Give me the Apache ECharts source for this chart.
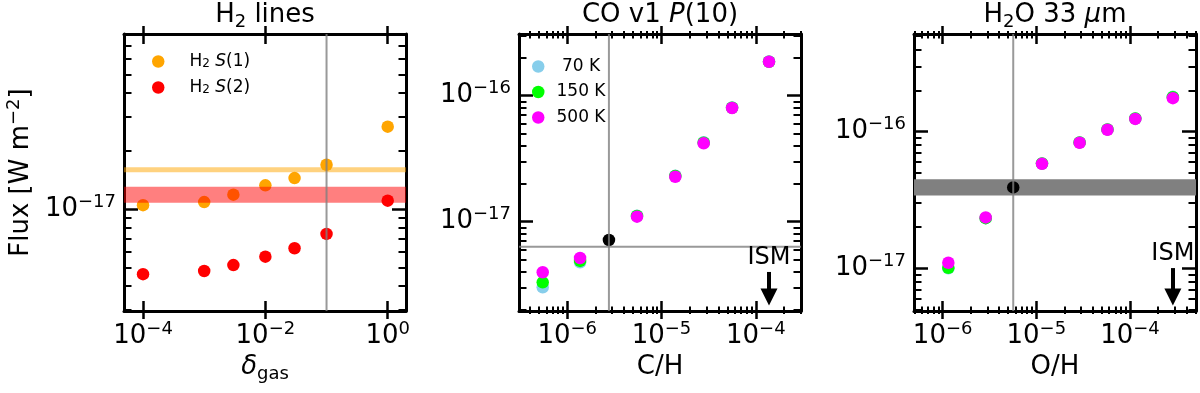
<!DOCTYPE html>
<html><head><meta charset="utf-8">
<script src="https://cdn.jsdelivr.net/npm/echarts@6/dist/echarts.min.js"></script>
<style>html,body{margin:0;padding:0;background:#fff}#c{width:1200px;height:393px}</style>
</head><body><div id="c"></div>
<script>
// ---------- Panel 1 : H2 lines ----------
const deltaGas   = [1e-4, 1e-3, 3e-3, 1e-2, 3e-2, 1e-1, 1];
const fluxH2S1   = [1.05e-17, 1.09e-17, 1.19e-17, 1.33e-17, 1.45e-17, 1.70e-17, 2.68e-17];
const fluxH2S2   = [4.61e-18, 4.79e-18, 5.14e-18, 5.68e-18, 6.28e-18, 7.45e-18, 1.108e-17];
const obsH2S1    = 1.6e-17;
const obsH2S2    = [1.08e-17, 1.31e-17];
const deltaGasRef = 0.1;
const h2Names    = ['H2 S(1)', 'H2 S(2)'];

// ---------- Panel 2 : CO v1 P(10) ----------
const abundC     = [5.5e-7, 1.37e-6, 5.5e-6, 1.4e-5, 2.8e-5, 5.6e-5, 1.38e-4];
const fluxCO70   = [3.01e-18, 4.76e-18, 1.116e-17, 2.32e-17, 4.27e-17, 8.06e-17, 1.87e-16];
const fluxCO150  = [3.30e-18, 4.88e-18, 1.11e-17, 2.30e-17, 4.24e-17, 8.02e-17, 1.86e-16];
const fluxCO500  = [3.97e-18, 5.15e-18, 1.096e-17, 2.275e-17, 4.19e-17, 7.99e-17, 1.86e-16];
const obsCOPoint = [2.77e-6, 7.16e-18];
const obsCOLevel = 6.33e-18;
const ismC       = 1.38e-4;
const ismCArrow  = [3.99e-18, 2.52e-18];

// ---------- Panel 3 : H2O 33 um ----------
const abundO     = [1.15e-6, 2.88e-6, 1.15e-5, 2.9e-5, 5.75e-5, 1.14e-4, 2.87e-4];
const fluxH2O70  = [1.00e-17, 2.33e-17, 5.85e-17, 8.35e-17, 1.04e-16, 1.25e-16, 1.80e-16];
const fluxH2O150 = [1.01e-17, 2.33e-17, 5.85e-17, 8.35e-17, 1.04e-16, 1.25e-16, 1.79e-16];
const fluxH2O500 = [1.10e-17, 2.36e-17, 5.82e-17, 8.30e-17, 1.034e-16, 1.24e-16, 1.76e-16];
const obsH2OPoint = [5.67e-6, 3.91e-17];
const obsH2OBand  = [3.42e-17, 4.48e-17];
const ismO       = 2.87e-4;
const ismOArrow  = [1.005e-17, 6.17e-18];
const tempNames  = [' 70 K', '150 K', '500 K'];

// ---------- tick labels ----------
const p1XTicks = [1e-4, 1e-2, 1];
const p1YTicks = [1e-17];
const p2XTicks = [1e-6, 1e-5, 1e-4];
const p2YTicks = [1e-17, 1e-16];
const p3XTicks = [1e-6, 1e-5, 1e-4];
const p3YTicks = [1e-17, 1e-16];

// ---------- styling / layout ----------
const FONT = 'DejaVu Sans';
const BIG = 26, SUP = 18;
const P = Math.pow;
const grids = [
  {left: 124, top: 34, width: 282, height: 277, outerBoundsMode: 'none', containLabel: false},
  {left: 519, top: 34, width: 282, height: 277, outerBoundsMode: 'none', containLabel: false},
  {left: 914, top: 34, width: 282, height: 277, outerBoundsMode: 'none', containLabel: false}
];
const ranges = [
  {x: [P(10, -4.311), P(10, 0.299)], y: [P(10, -17.527), P(10, -16.092)]},
  {x: [P(10, -6.511), P(10, -3.521)], y: [P(10, -17.709), P(10, -15.51)]},
  {x: [P(10, -6.306), P(10, -3.295)], y: [P(10, -17.312), P(10, -15.285)]}
];

function minorTicks(lo, hi) {
  const out = [];
  for (let d = Math.floor(Math.log10(lo)); d <= Math.ceil(Math.log10(hi)); d++) {
    for (let k = 2; k <= 9; k++) {
      const v = Number((k * P(10, d)).toPrecision(6));
      if (v > lo * 1.0001 && v < hi * 0.9999) out.push(v);
    }
  }
  return out;
}
function expLabel(v) {
  const e = Math.round(Math.log10(v));
  return '{b|10}{s|' + (e < 0 ? '\u2212' : '') + Math.abs(e) + '}';
}
const supRich = {
  b: {fontFamily: FONT, fontSize: BIG, lineHeight: 32, color: '#000'},
  s: {fontFamily: FONT, fontSize: SUP, lineHeight: 16, verticalAlign: 'top', color: '#000'},
  i: {fontFamily: FONT, fontSize: BIG, lineHeight: 32, fontStyle: 'italic', color: '#000'},
  u: {fontFamily: FONT, fontSize: SUP, lineHeight: 14, verticalAlign: 'bottom', color: '#000'}
};

const xAxes = [], yAxes = [];
function baseAxis(g, range, vals) {
  return {type: 'log', logBase: 10, gridIndex: g, min: range[0], max: range[1],
    splitLine: {show: false}, minorTick: {show: false}, minorSplitLine: {show: false},
    axisLine: {show: false, onZero: false}, axisTick: {show: false},
    axisLabel: {show: false, customValues: vals},
    axisPointer: {show: false}, silent: true};
}
function tick(vals, inside, len, w) {
  return {show: true, inside: inside, length: len, customValues: vals, lineStyle: {color: '#000', width: w}};
}
const spine = {show: true, onZero: false, lineStyle: {color: '#000', width: 3}};

function addAxes(g, xMaj, yMaj, xMinorOn, xName, yName) {
  const r = ranges[g];
  const xMin = xMinorOn ? minorTicks(r.x[0], r.x[1]) : [];
  const yMin = minorTicks(r.y[0], r.y[1]);
  const xi = xAxes.length, yi = yAxes.length;
  xAxes.push(Object.assign(baseAxis(g, r.x, xMaj), {position: 'bottom', axisLine: spine,
    axisTick: tick(xMaj, true, 10, 2.5),
    axisLabel: {show: true, customValues: xMaj, formatter: expLabel, rich: supRich, margin: 9, showMinLabel: true, showMaxLabel: true},
    name: xName, nameLocation: 'middle', nameGap: 39,
    nameTextStyle: {fontFamily: FONT, fontSize: BIG, color: '#000', rich: supRich}}));
  xAxes.push(Object.assign(baseAxis(g, r.x, xMaj), {position: 'bottom', axisTick: tick(xMaj, false, 8, 2.5)}));
  xAxes.push(Object.assign(baseAxis(g, r.x, xMaj), {position: 'top', axisLine: spine, axisTick: tick(xMaj, true, 10, 2.5)}));
  xAxes.push(Object.assign(baseAxis(g, r.x, xMaj), {position: 'top', axisTick: tick(xMaj, false, 8, 2.5)}));
  if (xMin.length) {
    ['bottom', 'top'].forEach(function (pos) {
      xAxes.push(Object.assign(baseAxis(g, r.x, xMin), {position: pos, axisTick: tick(xMin, true, 4.5, 2)}));
      xAxes.push(Object.assign(baseAxis(g, r.x, xMin), {position: pos, axisTick: tick(xMin, false, 3, 2)}));
    });
  }
  yAxes.push(Object.assign(baseAxis(g, r.y, yMaj), {position: 'left', axisLine: spine,
    axisTick: tick(yMaj, true, 14, 2.5),
    axisLabel: {show: true, customValues: yMaj, formatter: expLabel, rich: supRich, margin: 8, showMinLabel: true, showMaxLabel: true},
    name: yName || '', nameLocation: 'middle', nameGap: 87, nameRotate: 90,
    nameTextStyle: {fontFamily: FONT, fontSize: BIG, color: '#000', rich: supRich}}));
  yAxes.push(Object.assign(baseAxis(g, r.y, yMin), {position: 'left', axisTick: tick(yMin, true, 7.5, 2)}));
  yAxes.push(Object.assign(baseAxis(g, r.y, yMaj), {position: 'right', axisLine: spine, axisTick: tick(yMaj, true, 14, 2.5)}));
  yAxes.push(Object.assign(baseAxis(g, r.y, yMin), {position: 'right', axisTick: tick(yMin, true, 7.5, 2)}));
  return {xi: xi, yi: yi, r: r};
}

const a1 = addAxes(0, p1XTicks, p1YTicks, false, '{i|\u03b4}{u|gas}', '{b|Flux [W m}{s|\u22122}{b|]}');
const a2 = addAxes(1, p2XTicks, p2YTicks, true, '{b|C/H}', '');
const a3 = addAxes(2, p3XTicks, p3YTicks, true, '{b|O/H}', '');

const series = [];
function zip(xs, ys) { return xs.map(function (x, i) { return [x, ys[i]]; }); }
function scatter(name, data, color, a, z) {
  series.push({type: 'scatter', name: name, data: data, symbol: 'circle', symbolSize: 12.5,
    itemStyle: {color: color, opacity: 1}, xAxisIndex: a.xi, yAxisIndex: a.yi, z: z,
    silent: true, emphasis: {disabled: true}});
}
function overlay(a, z, extra) {
  series.push(Object.assign({type: 'scatter', data: [], xAxisIndex: a.xi, yAxisIndex: a.yi, z: z, silent: true}, extra));
}
// reference lines spanning the full axis range
function vLine(a, x, color, width, z) {
  series.push({type: 'line', data: [[x, a.r.y[0]], [x, a.r.y[1]]], xAxisIndex: a.xi, yAxisIndex: a.yi,
    symbol: 'none', z: z, silent: true, lineStyle: {color: color, width: width}, emphasis: {disabled: true}});
}
function hLine(a, y, color, width, z) {
  series.push({type: 'line', data: [[a.r.x[0], y], [a.r.x[1], y]], xAxisIndex: a.xi, yAxisIndex: a.yi,
    symbol: 'none', z: z, silent: true, lineStyle: {color: color, width: width}, emphasis: {disabled: true}});
}
function mArea(lo, hi, color, z) {
  return {silent: true, z: z, label: {show: false}, emphasis: {disabled: true},
    itemStyle: {color: color, opacity: 1}, data: [[{yAxis: lo}, {yAxis: hi}]]};
}
function ismArrow(x, ys) {
  return {silent: true, symbol: ['none', 'triangle'], symbolSize: 17, z: 6,
    lineStyle: {color: '#000', width: 4, type: 'solid', opacity: 1},
    label: {show: true, position: 'start', formatter: 'ISM', distance: 2,
      fontFamily: FONT, fontSize: 24, color: '#000'},
    emphasis: {disabled: true},
    data: [[{coord: [x, ys[0]]}, {coord: [x, ys[1]]}]]};
}
const GRAY = 'rgba(128,128,128,0.8)';

// panel 1
scatter(h2Names[0], zip(deltaGas, fluxH2S1), '#ffa500', a1, 2);
scatter(h2Names[1], zip(deltaGas, fluxH2S2), '#ff0000', a1, 2);
overlay(a1, 3, {markArea: mArea(obsH2S2[0], obsH2S2[1], 'rgba(255,0,0,0.5)', 3)});
hLine(a1, obsH2S1, 'rgba(255,165,0,0.5)', 5, 4);
vLine(a1, deltaGasRef, GRAY, 2, 5);

// panel 2
scatter(tempNames[0], zip(abundC, fluxCO70), '#87ceeb', a2, 2);
scatter(tempNames[1], zip(abundC, fluxCO150), '#00ff00', a2, 2);
scatter(tempNames[2], zip(abundC, fluxCO500), '#ff00ff', a2, 2);
scatter('obsCO', [obsCOPoint], '#000000', a2, 3);
vLine(a2, obsCOPoint[0], GRAY, 2, 5);
hLine(a2, obsCOLevel, GRAY, 2, 5);
overlay(a2, 6, {markLine: ismArrow(ismC, ismCArrow)});

// panel 3
overlay(a3, 1, {markArea: mArea(obsH2OBand[0], obsH2OBand[1], '#808080', 1)});
scatter(tempNames[0], zip(abundO, fluxH2O70), '#87ceeb', a3, 2);
scatter(tempNames[1], zip(abundO, fluxH2O150), '#00ff00', a3, 2);
scatter(tempNames[2], zip(abundO, fluxH2O500), '#ff00ff', a3, 2);
scatter('obsH2O', [obsH2OPoint], '#000000', a3, 3);
vLine(a3, obsH2OPoint[0], GRAY, 2, 5);
overlay(a3, 6, {markLine: ismArrow(ismO, ismOArrow)});

const titleRich = {
  b: {fontFamily: FONT, fontSize: BIG, lineHeight: 32, color: '#000'},
  i: {fontFamily: FONT, fontSize: BIG, lineHeight: 32, fontStyle: 'italic', color: '#000'},
  u: {fontFamily: FONT, fontSize: SUP, lineHeight: 14, verticalAlign: 'bottom', color: '#000'}
};
function title(text, cx) {
  return {text: text, left: cx, top: -1, textAlign: 'center', padding: 0, itemGap: 0,
    textStyle: {fontFamily: FONT, fontSize: BIG, fontWeight: 'normal', color: '#000', rich: titleRich}};
}
const legRich = {
  t: {fontFamily: FONT, fontSize: 17, color: '#000'},
  u: {fontFamily: FONT, fontSize: 12, verticalAlign: 'bottom', lineHeight: 10, color: '#000'},
  i: {fontFamily: FONT, fontSize: 17, fontStyle: 'italic', color: '#000'}
};

const chart = echarts.init(document.getElementById('c'), null, {renderer: 'canvas'});
chart.setOption({
  animation: false,
  backgroundColor: '#fff',
  textStyle: {fontFamily: FONT},
  title: [
    title('{b|H}{u|2}{b| lines}', 265),
    title('{b|CO v1 }{i|P}{b|(10)}', 660),
    title('{b|H}{u|2}{b|O 33 }{i|\u03bc}{b|m}', 1055)
  ],
  legend: [
    {data: h2Names, left: 152, top: 53, orient: 'vertical', itemWidth: 12.5, itemHeight: 12.5, itemGap: 9,
      icon: 'circle', selectedMode: false, padding: 0,
      formatter: function (n) {
        const k = n.slice(-2, -1);
        return '{t|H}{u|2}{t| }{i|S}{t|(' + k + ')}';
      },
      textStyle: {fontFamily: FONT, fontSize: 17, color: '#000', padding: [0, 0, 0, 20], rich: legRich}},
    {data: tempNames, left: 532, top: 58, orient: 'vertical', itemWidth: 12.5, itemHeight: 12.5, itemGap: 8.5,
      icon: 'circle', selectedMode: false, padding: 0,
      formatter: function (n) { return '{t|' + n + '}'; },
      textStyle: {fontFamily: FONT, fontSize: 17, color: '#000', padding: [0, 0, 0, 7], rich: legRich}}
  ],
  grid: grids,
  xAxis: xAxes,
  yAxis: yAxes,
  series: series
});
</script>
</body></html>
